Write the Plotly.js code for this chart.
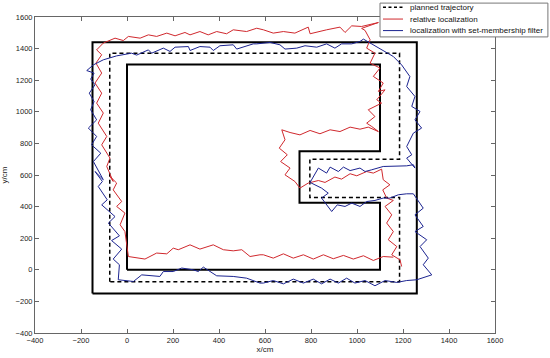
<!DOCTYPE html>
<html>
<head>
<meta charset="utf-8">
<script src="https://cdn.plot.ly/plotly-3.0.1.min.js"></script>
<style>html,body{margin:0;padding:0;background:#fff;}#chart{width:550px;height:358px;}</style>
</head>
<body>
<div id="chart"></div>
<script>
// Walls (black solid)
var outerWallX = [-150, -150, 1260, 1260, -150];
var outerWallY = [-150, 1440, 1440, -150, -150];
var innerWallX = [0, 0, 1100, 1100, 750, 750, 1100, 1100, 0];
var innerWallY = [0, 1300, 1300, 750, 750, 425, 425, 0, 0];

// Planned trajectory (dashed)
var plannedX = [-75, -75, 1185, 1185, 795, 795, 1185, 1185, -75];
var plannedY = [-75, 1370, 1370, 700, 700, 458, 458, -75, -75];

// Relative localization (red)
var relX = [1158, 1114, 1071, 1028, 984, 941, 897, 854, 810, 767, 723, 680, 636, 593, 578, 535, 499, 462, 419, 375, 317, 274, 223, 201, 173, 129, 78, 6,
  -9, -30, -9, -45, -23, -60, -45, -74, -60, -88, -74, -110, -88, -125, -103, -132, -110, -139, -110, -135, -110, -132, -103,
  -52, -16, 6, 57, 93, 129, 173, 209, 252, 274, 317, 353, 390, 433, 462, 520, 564, 593, 636, 680, 730, 788, 796, 868, 926, 948, 977, 1020, 1093, 1020, 1035,
  1057, 1042, 1078, 1057, 1100, 1071, 1114, 1093, 1122, 1086, 1107, 1049, 1078, 1042, 1064, 1093,
  1049, 1013, 970, 926, 883, 839, 796, 752, 709, 673,
  687, 662, 697, 668, 709, 687, 730, 752,
  788, 832, 861, 904, 933, 970, 999, 1042, 1071, 1107,
  1114, 1143, 1112, 1129, 1158, 1122, 1151, 1129, 1158, 1136, 1173, 1151, 1187, 1194];
var relY = [80, 84, 59, 89, 68, 91, 70, 95, 68, 95, 74, 101, 74, 95, 95, 84, 127, 120, 127, 158, 131, 158, 127, 137, 101, 106, 68, 84,
  242, 285, 359, 401, 432, 506, 549, 591, 559, 654, 707, 791, 844, 928, 992, 1055, 1118, 1182, 1245, 1308, 1361, 1392, 1435,
  1466, 1451, 1477, 1466, 1487, 1477, 1498, 1481, 1502, 1487, 1508, 1487, 1508, 1494, 1519, 1508, 1529, 1519, 1498, 1508, 1498, 1536, 1494, 1519, 1536, 1502, 1544, 1540, 1565, 1528, 1515,
  1456, 1403, 1371, 1308, 1277, 1224, 1182, 1129, 1139, 1076, 1055, 1013, 970, 928, 907, 875,
  903, 890, 903, 875, 886, 861, 882, 854, 869, 886,
  823, 770, 728, 685, 644, 601, 559, 517,
  549, 565, 553, 587, 574, 608, 595, 622, 612, 637,
  570, 538, 506, 454, 439, 401, 348, 296, 242, 190, 147, 95, 63, 21];

// Localization with set-membership filter (blue)
var smfX = [-103, -45, 20, 42, 93, 107, 158, 187, 209, 267, 274, 317, 361, 375, 404, 462, 477, 549,
  564, 622, 665, 687, 738, 774, 825, 868, 904, 933, 977, 1013, 1028,
  1158, 1194, 1230, 1216, 1252, 1238, 1274, 1252, 1281, 1245, 1230, 1216, 1238, 1216, 1252,
  1245, 1216, 1158, 1114, 1064, 1035, 1013, 970, 941, 919, 883, 868, 832,
  796, 846, 875, 846, 890, 914, 948, 977, 1013, 1042, 1078, 1114, 1143, 1180, 1216, 1245,
  1288, 1252, 1288, 1252, 1303, 1274, 1310, 1288, 1325, 1260,
  1216, 1173, 1122, 1078, 1035, 991, 955, 919, 883, 846, 810, 767, 723, 680, 636, 593,
  578, 520, 462, 390, 332, 310, 288, 238, 201, 158, 143, 64, 28, -38,
  -33, -60, -23, -67, -33, -81, -52, -110, -86, -125, -107, -139,
  -103, -146, -114, -154, -132, -168, -132, -158, -143, -164, -139, -158, -143, -175, -146, -103];
var smfY = [1329, 1354, 1371, 1359, 1392, 1371, 1403, 1382, 1409, 1413, 1388, 1413, 1409, 1388, 1418, 1424, 1397, 1430,
  1430, 1439, 1424, 1397, 1403, 1418, 1409, 1430, 1403, 1430, 1430, 1445, 1460,
  1350, 1297, 1223, 1160, 1097, 1034, 1002, 949, 897, 865, 823, 780, 728, 707, 644,
  665, 658, 654, 654, 633, 622, 644, 628, 650, 622, 650, 612, 644,
  553, 517, 485, 454, 369, 411, 401, 422, 401, 432, 439, 454, 454, 475, 481, 481,
  390, 348, 274, 242, 190, 147, 74, 32, -32, -63,
  -68, -80, -68, -101, -68, -84, -53, -84, -59, -89, -59, -84, -59, -89, -68, -84,
  -84, -53, -42, -38, 17, -11, 0, 11, -11, -11, -42, -32, -74, -63,
  32, 68, 131, 185, 215, 296, 337, 411, 443, 527, 559, 622,
  570, 685, 738, 791, 844, 897, 949, 1013, 1065, 1118, 1171, 1207, 1245, 1261, 1297, 1329];

var seriesNames = ['planned trajectory', 'relative localization', 'localization with set-membership filter'];
var seriesColors = ['#000000', '#d0282d', '#1b2390'];
var seriesDash = ['3px,2.5px', 'solid', 'solid'];

var traces = [
  {x: outerWallX, y: outerWallY, mode: 'lines', name: 'walls', line: {color: '#000', width: 2}, showlegend: false, hoverinfo: 'skip'},
  {x: innerWallX, y: innerWallY, mode: 'lines', name: 'walls', line: {color: '#000', width: 2}, showlegend: false, hoverinfo: 'skip'},
  {x: plannedX, y: plannedY, mode: 'lines', name: seriesNames[0], showlegend: false, line: {color: seriesColors[0], width: 1.5, dash: '4px,3px'}},
  {x: relX, y: relY, mode: 'lines', name: seriesNames[1], showlegend: false, line: {color: seriesColors[1], width: 1}},
  {x: smfX, y: smfY, mode: 'lines', name: seriesNames[2], showlegend: false, line: {color: seriesColors[2], width: 1}}
];

var fontFam = 'Liberation Sans, Arial, Helvetica, sans-serif';
var axisCommon = {
  range: [-400, 1600], dtick: 200, tick0: 0,
  showgrid: false, zeroline: false,
  showline: true, mirror: 'ticks', linecolor: '#666', linewidth: 1,
  ticks: 'inside', ticklen: 4, tickcolor: '#666',
  tickfont: {size: 7.5, color: '#222', family: fontFam}
};

// Compact legend box (MATLAB style), in paper coordinates
var legX0 = 0.75, legX1 = 1.115, legY0 = 0.937, legY1 = 1.044;
var rowY = [1.031, 0.9935, 0.957];
var shapes = [{type: 'rect', xref: 'paper', yref: 'paper', x0: legX0, x1: legX1, y0: legY0, y1: legY1,
  fillcolor: '#fff', line: {color: '#777', width: 1}, layer: 'above'}];
var annotations = [];
for (var i = 0; i < 3; i++) {
  shapes.push({type: 'line', xref: 'paper', yref: 'paper', x0: 0.7565, x1: 0.8, y0: rowY[i], y1: rowY[i],
    line: {color: seriesColors[i], width: i === 0 ? 1.5 : 1, dash: seriesDash[i]}, layer: 'above'});
  annotations.push({xref: 'paper', yref: 'paper', x: 0.811, y: rowY[i], xanchor: 'left', yanchor: 'middle',
    text: seriesNames[i], showarrow: false, font: {size: 8, color: '#111', family: fontFam}});
}

var layout = {
  width: 550, height: 358,
  margin: {l: 35, r: 55, t: 17, b: 25},
  paper_bgcolor: '#fff', plot_bgcolor: '#fff',
  font: {family: fontFam, size: 7.5, color: '#222'},
  xaxis: Object.assign({}, axisCommon, {title: {text: 'x/cm', standoff: 0, font: {size: 8}}}),
  yaxis: Object.assign({}, axisCommon, {title: {text: 'y/cm', standoff: 6, font: {size: 8}}}),
  showlegend: false,
  shapes: shapes,
  annotations: annotations
};

Plotly.newPlot('chart', traces, layout, {staticPlot: true, displayModeBar: false});
</script>
</body>
</html>
